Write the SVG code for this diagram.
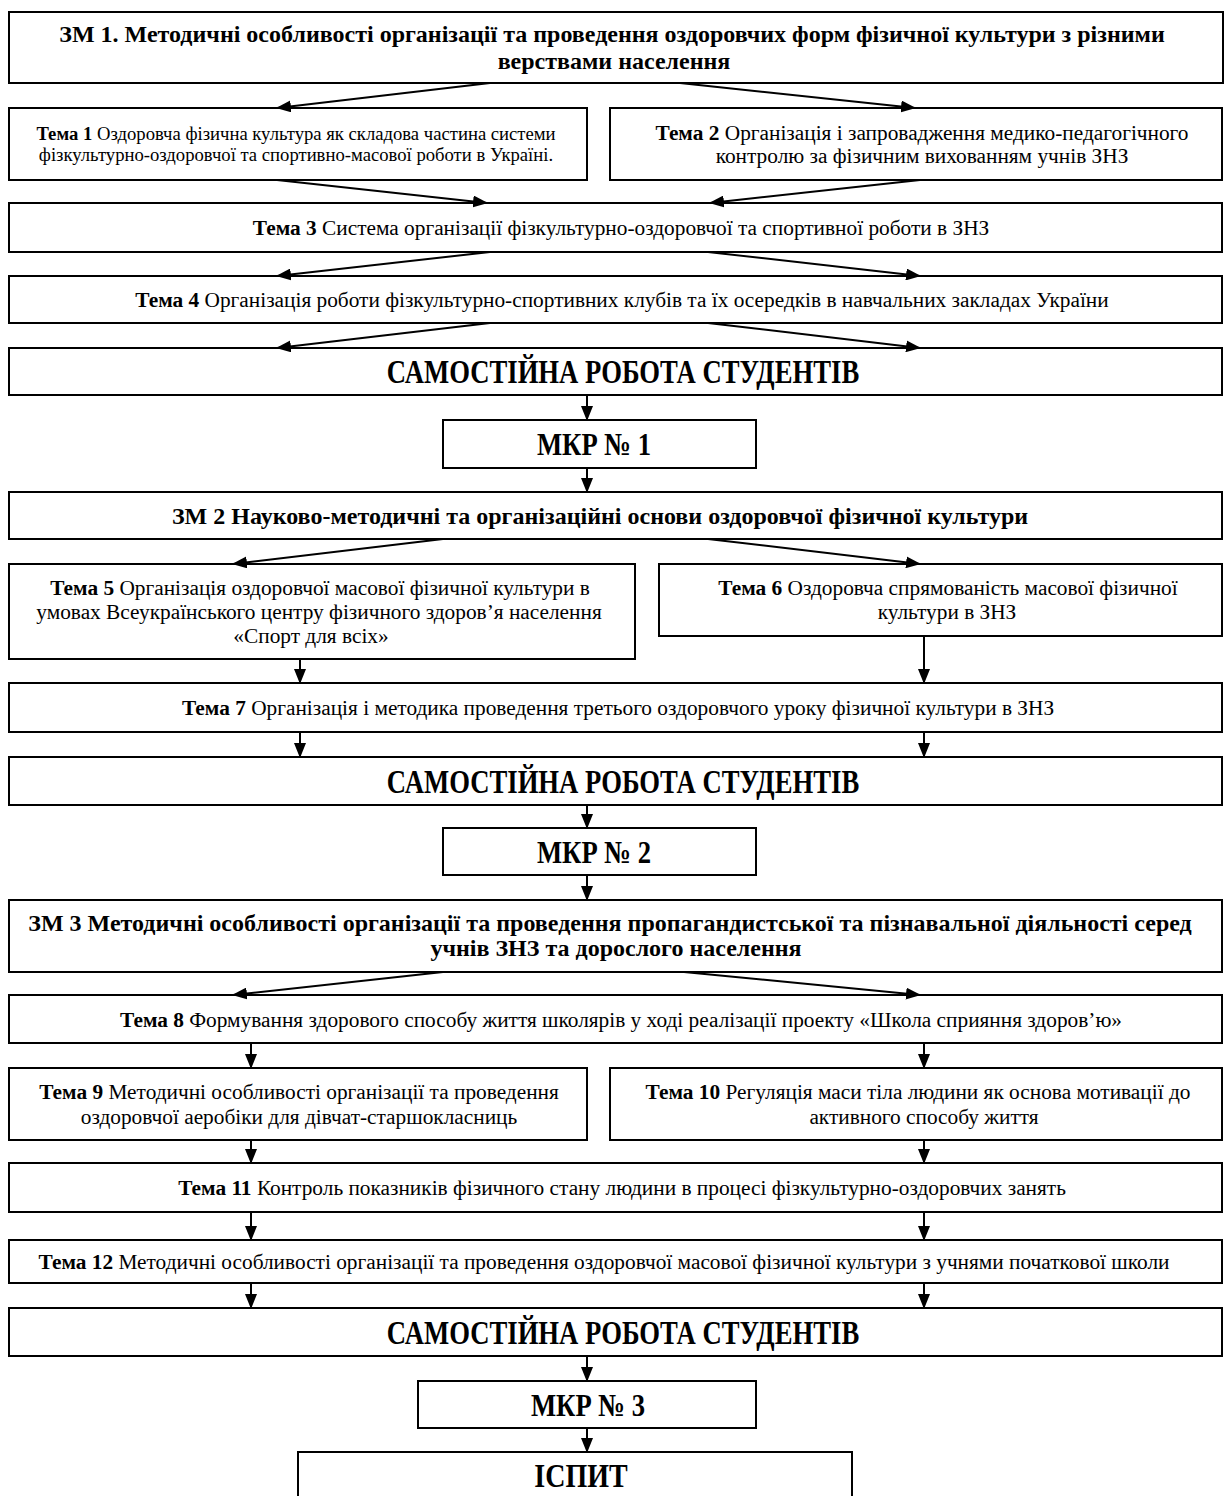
<svg xmlns="http://www.w3.org/2000/svg" width="1226" height="1496" viewBox="0 0 1226 1496">
<defs>
<marker id="ah" markerWidth="15" markerHeight="12" refX="14" refY="6" orient="auto" markerUnits="userSpaceOnUse"><path d="M0,0 L15,6 L0,12 z" fill="#000"/></marker>
<style>
.box{fill:#fff;stroke:#000;stroke-width:2}
.t{font-family:"Liberation Serif","Times New Roman",serif;font-size:21.33px;text-anchor:middle;fill:#000}
.s{font-size:18.67px}
.b{font-weight:bold}
.h{font-family:"Liberation Serif","Times New Roman",serif;font-weight:bold;font-size:24px;text-anchor:middle;fill:#000}
.big{font-family:"Liberation Serif","Times New Roman",serif;font-weight:bold;font-size:26.67px;text-anchor:middle;fill:#000}
.c{stroke:#000;stroke-width:2;fill:none;marker-end:url(#ah)}
</style>
</defs>
<rect width="1226" height="1496" fill="#fff"/>
<g id="zm1"><rect class="box" x="9" y="12" width="1214" height="71"/>
<text class="h" x="612" y="42">ЗМ 1. Методичні особливості організації та проведення оздоровчих форм фізичної культури з різними</text>
<text class="h" x="614" y="69">верствами населення</text></g>
<g id="t1"><rect class="box" x="9" y="108" width="578" height="72"/>
<text class="t s" x="296" y="140"><tspan class="b">Тема 1</tspan> Оздоровча фізична культура як складова частина системи</text>
<text class="t s" x="296" y="161">фізкультурно-оздоровчої та спортивно-масової роботи в Україні.</text></g>
<g id="t2"><rect class="box" x="610" y="108" width="612" height="72"/>
<text class="t" x="922" y="140"><tspan class="b">Тема 2</tspan> Організація і запровадження медико-педагогічного</text>
<text class="t" x="922" y="163">контролю за фізичним вихованням учнів ЗНЗ</text></g>
<g id="t3"><rect class="box" x="9" y="203" width="1213" height="49"/>
<text class="t" x="621" y="235"><tspan class="b">Тема 3</tspan> Система організації фізкультурно-оздоровчої та спортивної роботи в ЗНЗ</text></g>
<g id="t4"><rect class="box" x="9" y="276" width="1213" height="47"/>
<text class="t" x="622" y="307"><tspan class="b">Тема 4</tspan> Організація роботи фізкультурно-спортивних клубів та їх осередків в навчальних закладах України</text></g>
<g id="s1"><rect class="box" x="9" y="348" width="1213" height="47"/>
<text class="big" transform="translate(623,383) scale(1,1.3)">САМОСТІЙНА РОБОТА СТУДЕНТІВ</text></g>
<g id="m1"><rect class="box" x="443" y="420" width="313" height="48"/>
<text class="big" transform="translate(594,455) scale(1,1.2)">МКР № 1</text></g>
<g id="zm2"><rect class="box" x="9" y="492" width="1213" height="47"/>
<text class="h" x="600" y="524">ЗМ 2 Науково-методичні та організаційні основи оздоровчої фізичної культури</text></g>
<g id="t5"><rect class="box" x="9" y="564" width="626" height="95"/>
<text class="t" x="320" y="595"><tspan class="b">Тема 5</tspan> Організація оздоровчої масової фізичної культури в</text>
<text class="t" x="319" y="619">умовах Всеукраїнського центру фізичного здоров’я населення</text>
<text class="t" x="311" y="643">«Спорт для всіх»</text></g>
<g id="t6"><rect class="box" x="659" y="564" width="563" height="72"/>
<text class="t" x="948" y="595"><tspan class="b">Тема 6</tspan> Оздоровча спрямованість масової фізичної</text>
<text class="t" x="947" y="619">культури в ЗНЗ</text></g>
<g id="t7"><rect class="box" x="9" y="683" width="1213" height="49"/>
<text class="t" x="618" y="715"><tspan class="b">Тема 7</tspan> Організація і методика проведення третього оздоровчого уроку фізичної культури в ЗНЗ</text></g>
<g id="s2"><rect class="box" x="9" y="757" width="1213" height="48"/>
<text class="big" transform="translate(623,793) scale(1,1.3)">САМОСТІЙНА РОБОТА СТУДЕНТІВ</text></g>
<g id="m2"><rect class="box" x="443" y="828" width="313" height="47"/>
<text class="big" transform="translate(594,863) scale(1,1.2)">МКР № 2</text></g>
<g id="zm3"><rect class="box" x="9" y="900" width="1213" height="72"/>
<text class="h" x="610" y="931">ЗМ 3 Методичні особливості організації та проведення пропагандистської та пізнавальної діяльності серед</text>
<text class="h" x="616" y="956">учнів ЗНЗ та дорослого населення</text></g>
<g id="t8"><rect class="box" x="9" y="995" width="1213" height="48"/>
<text class="t" x="621" y="1027"><tspan class="b">Тема 8</tspan> Формування здорового способу життя школярів у ході реалізації проекту «Школа сприяння здоров’ю»</text></g>
<g id="t9"><rect class="box" x="9" y="1068" width="578" height="72"/>
<text class="t" x="299" y="1099"><tspan class="b">Тема 9</tspan> Методичні особливості організації та проведення</text>
<text class="t" x="299" y="1124">оздоровчої аеробіки для дівчат-старшокласниць</text></g>
<g id="t10"><rect class="box" x="610" y="1068" width="612" height="72"/>
<text class="t" x="918" y="1099"><tspan class="b">Тема 10</tspan> Регуляція маси тіла людини як основа мотивації до</text>
<text class="t" x="924" y="1124">активного способу життя</text></g>
<g id="t11"><rect class="box" x="9" y="1163" width="1213" height="49"/>
<text class="t" x="622" y="1195"><tspan class="b">Тема 11</tspan> Контроль показників фізичного стану людини в процесі фізкультурно-оздоровчих занять</text></g>
<g id="t12"><rect class="box" x="9" y="1240" width="1213" height="43"/>
<text class="t" x="604" y="1269"><tspan class="b">Тема 12</tspan> Методичні особливості організації та проведення оздоровчої масової фізичної культури з учнями початкової школи</text></g>
<g id="s3"><rect class="box" x="9" y="1308" width="1213" height="48"/>
<text class="big" transform="translate(623,1344) scale(1,1.3)">САМОСТІЙНА РОБОТА СТУДЕНТІВ</text></g>
<g id="m3"><rect class="box" x="418" y="1381" width="338" height="47"/>
<text class="big" transform="translate(588,1416) scale(1,1.2)">МКР № 3</text></g>
<g id="exam"><rect class="box" x="298" y="1452" width="554" height="60"/>
<text class="big" transform="translate(581,1487) scale(1,1.2)" style="font-size:28px">ІСПИТ</text></g>
<g id="connectors">
<path class="c" d="M490,83 L277,108"/>
<path class="c" d="M680,83 L915,108"/>
<path class="c" d="M277,180 L487,203"/>
<path class="c" d="M920,180 L710,203"/>
<path class="c" d="M490,252 L277,276"/>
<path class="c" d="M708,252 L920,276"/>
<path class="c" d="M490,323 L277,348"/>
<path class="c" d="M708,323 L920,348"/>
<path class="c" d="M587,395 L587,420"/>
<path class="c" d="M587,468 L587,492"/>
<path class="c" d="M443,539 L233,564"/>
<path class="c" d="M708,539 L920,564"/>
<path class="c" d="M300,659 L300,683"/>
<path class="c" d="M924,636 L924,683"/>
<path class="c" d="M300,732 L300,757"/>
<path class="c" d="M924,732 L924,757"/>
<path class="c" d="M587,805 L587,828"/>
<path class="c" d="M587,875 L587,900"/>
<path class="c" d="M443,972 L233,995"/>
<path class="c" d="M684,972 L920,995"/>
<path class="c" d="M251,1043 L251,1068"/>
<path class="c" d="M924,1043 L924,1068"/>
<path class="c" d="M251,1140 L251,1163"/>
<path class="c" d="M924,1140 L924,1163"/>
<path class="c" d="M251,1212 L251,1240"/>
<path class="c" d="M924,1212 L924,1240"/>
<path class="c" d="M251,1283 L251,1308"/>
<path class="c" d="M924,1283 L924,1308"/>
<path class="c" d="M587,1356 L587,1381"/>
<path class="c" d="M587,1428 L587,1452"/>
</g>
</svg>
